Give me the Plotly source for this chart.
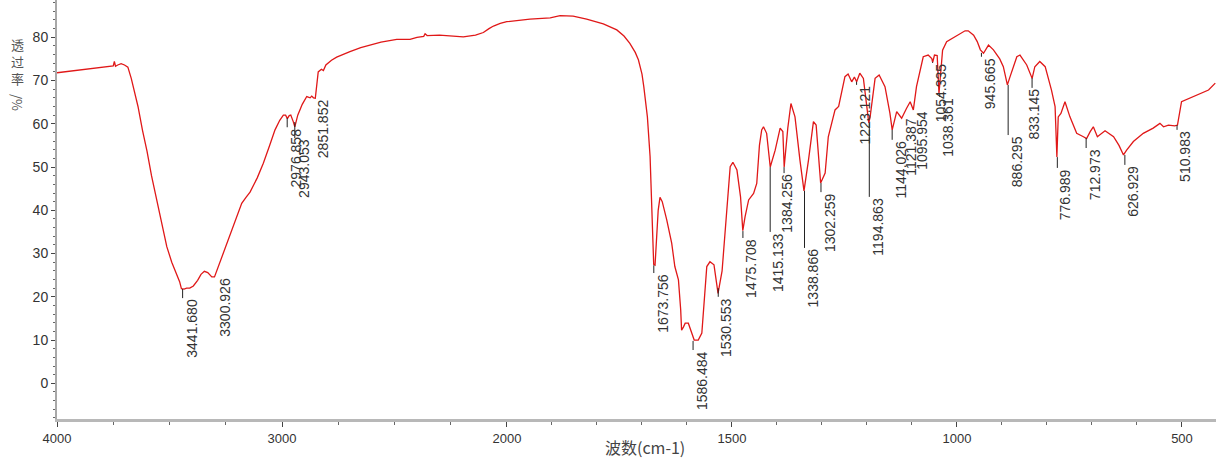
import numpy as np
import plotly.graph_objects as go

# ---------------- data ----------------
wavenumber = [
    4000, 3950, 3900, 3850, 3800, 3760, 3750, 3745, 3740, 3730, 3715, 3700, 3685, 3670, 3660,
    3640, 3620, 3600, 3580, 3557, 3535, 3512, 3490, 3470, 3455, 3447, 3435, 3424, 3410, 3394,
    3375, 3360, 3345, 3330, 3312, 3300, 3290, 3270, 3246, 3210, 3179, 3160, 3142, 3110, 3083,
    3055, 3031, 3010, 2994, 2984, 2976, 2968, 2961, 2950, 2943, 2930, 2910, 2890, 2875, 2868,
    2860, 2852, 2845, 2839, 2825, 2816, 2805, 2780, 2757, 2720, 2698, 2650, 2609, 2560, 2490,
    2431, 2400, 2370, 2364, 2355, 2300, 2250, 2194, 2140, 2105, 2080, 2060, 2030, 2001, 1949,
    1904, 1882, 1853, 1823, 1786, 1756, 1740, 1727, 1715, 1708, 1700, 1696, 1688, 1682, 1677,
    1674, 1671, 1668, 1664, 1660, 1655, 1645, 1634, 1627, 1619, 1614, 1612, 1608, 1604, 1597,
    1590, 1584, 1575, 1567, 1556, 1549, 1540, 1531, 1522, 1515, 1504, 1498, 1489, 1481, 1476,
    1471, 1463, 1452, 1445, 1439, 1434, 1430, 1423, 1415, 1404, 1393, 1387, 1384, 1380, 1376,
    1369, 1360, 1349, 1340, 1330, 1319, 1313, 1308, 1303, 1293, 1286, 1271, 1263, 1249, 1242,
    1234, 1228, 1223, 1216, 1208, 1200, 1196, 1193, 1182, 1173, 1160, 1149, 1144, 1134, 1123,
    1112, 1104, 1097, 1090, 1075, 1064, 1056, 1054, 1050, 1044, 1040, 1036, 1032, 1023, 1004,
    990, 982, 975, 963, 955, 948, 941, 930, 919, 905, 897, 888, 882, 867, 860,
    845, 833, 827, 816, 804, 790, 782, 778, 775, 769, 760, 749, 734, 719, 712,
    704, 697, 688, 671, 652, 640, 630, 623, 608, 586, 564, 549, 541, 530, 516,
    510, 501, 482, 460, 441, 426,
]
transmittance = [
    71.8, 72.1, 72.4, 72.8, 73.1, 73.3, 73.4, 74.4, 73.3, 73.6, 73.9, 73.6, 73.1, 70.5, 68.5,
    64.0, 58.5, 53.7, 48.0, 42.4, 37.0, 31.6, 28.0, 25.4, 23.5, 21.9, 21.8, 22.0, 22.0, 22.5,
    23.8, 25.2, 25.9, 25.6, 24.6, 24.6, 26.0, 29.0, 32.6, 37.5, 41.6, 43.0, 44.2, 47.5, 50.9,
    55.0, 58.6, 60.8, 62.0, 62.0, 61.2, 61.9, 62.0, 60.5, 59.3, 62.0, 64.5, 66.3, 66.0, 66.4,
    66.0, 65.9, 69.0, 72.0, 72.6, 72.3, 73.6, 74.7, 75.4, 76.3, 76.7, 77.6, 78.2, 78.9, 79.5,
    79.5, 80.0, 80.2, 80.8, 80.4, 80.5, 80.3, 80.1, 80.5, 81.1, 82.0, 82.6, 83.2, 83.6, 84.2,
    84.5, 85.0, 84.9, 84.2, 83.1, 81.7, 80.3, 78.6, 76.5, 74.8, 71.5, 68.6, 61.6, 52.4, 39.3,
    27.5, 27.3, 34.0, 40.0, 43.0, 42.0, 37.8, 32.4, 27.0, 23.9, 17.0, 12.3, 13.0, 13.9, 13.9,
    11.6, 10.0, 10.0, 11.6, 27.0, 28.1, 27.4, 20.8, 26.0, 36.0, 50.1, 51.1, 49.3, 43.1, 35.3,
    38.5, 42.4, 43.9, 46.2, 55.0, 58.6, 59.3, 57.8, 50.0, 53.9, 59.0, 58.2, 50.0, 55.0, 59.0,
    64.7, 61.6, 51.6, 44.5, 51.6, 60.5, 59.7, 53.9, 46.3, 48.6, 57.0, 63.2, 64.0, 70.9, 71.5,
    69.7, 70.8, 69.7, 71.7, 70.5, 64.0, 60.2, 61.6, 70.5, 71.3, 68.6, 62.4, 58.6, 62.8, 61.3,
    63.6, 65.1, 63.2, 68.6, 75.5, 75.9, 75.1, 74.2, 75.9, 75.8, 67.0, 72.0, 77.0, 79.0, 80.1,
    81.0, 81.5, 81.5, 80.5, 79.0, 77.1, 76.3, 78.2, 77.1, 75.0, 73.2, 69.0, 70.9, 75.5, 75.9,
    73.6, 70.5, 73.2, 74.4, 73.2, 67.8, 64.0, 52.3, 61.6, 62.4, 65.1, 61.6, 57.8, 57.0, 56.6,
    58.2, 59.3, 57.0, 58.4, 57.0, 55.0, 52.8, 53.9, 55.9, 57.8, 59.0, 60.1, 59.3, 59.7, 59.5,
    59.7, 65.1, 65.9, 67.0, 67.8, 69.4,
]

# peak labels
peak_labels = [
    "3441.680", "3300.926", "2976.858", "2943.053", "2851.852", "1673.756", "1586.484",
    "1530.553", "1475.708", "1415.133", "1384.256", "1338.866", "1302.259", "1223.121",
    "1194.863", "1144.026", "1121.387", "1095.954", "1054.335", "1038.361", "945.665",
    "886.295", "833.145", "776.989", "712.973", "626.929", "510.983",
]
peak_value = [
    21.8, 24.6, 61.3, 60.4, 66.0, 27.3, 9.8, 22.0, 35.2, 50.0, 50.0, 44.5, 46.3, 69.7,
    60.2, 58.6, 61.6, 63.2, 74.3, 67.1, 76.4, 69.0, 70.6, 52.3, 56.7, 52.8, 59.7,
]
# where each label's text ends (leader line end), in transmittance units
label_text_top = [
    19.7, 24.6, 59.2, 56.7, 66.0, 25.5, 7.7, 20.0, 33.6, 35.0, 48.6, 31.3, 44.2, 69.0,
    43.1, 56.3, 61.6, 63.2, 74.1, 66.2, 75.5, 57.4, 68.3, 49.8, 54.4, 50.5, 58.6,
]
label_shift_override = {"3300.926": 11, "1384.256": 3, "833.145": 2}

major_ticks = [4000, 3000, 2000, 1500, 1000, 500]
minor_ticks = [3750, 3500, 3250, 2750, 2500, 2250] + list(range(1900, 1500, -100)) + \
    list(range(1400, 1000, -100)) + list(range(900, 500, -100))


def to_axis(w):
    """Instrument axis: 4000-2000 compressed by half, below 2000 full scale."""
    w = np.asarray(w, dtype=float)
    return np.where(w >= 2000, (4000 - w) * 0.5, 1000 + (2000 - w))


fig = go.Figure()

fig.add_trace(go.Scatter(
    x=to_axis(wavenumber), y=transmittance, mode="lines",
    line=dict(color="#e01818", width=1.3), hoverinfo="skip", showlegend=False,
))

# leader lines
lx, ly = [], []
for lab, pv, tt in zip(peak_labels, peak_value, label_text_top):
    xa = float(to_axis(float(lab)))
    lx += [xa, xa, None]
    ly += [pv, tt, None]
fig.add_trace(go.Scatter(x=lx, y=ly, mode="lines", line=dict(color="#222222", width=1),
                         hoverinfo="skip", showlegend=False))

annotations = []
for lab, tt in zip(peak_labels, label_text_top):
    annotations.append(dict(
        x=float(to_axis(float(lab))), y=tt, xref="x", yref="y", text=lab,
        textangle=-90, showarrow=False, xanchor="center", yanchor="top",
        xshift=label_shift_override.get(lab, 8.5), borderpad=0,
        font=dict(family="Liberation Sans", size=14, color="#333333"),
    ))

# y-axis title, written vertically (CJK upright, "/%" turned)
plot_h = 419.0
annotations.append(dict(
    x=-0.0345, y=1 - 34 / plot_h, xref="paper", yref="paper", text="透<br>过<br>率",
    showarrow=False, xanchor="center", yanchor="top", borderpad=0,
    font=dict(family="Noto Sans CJK SC", size=13, color="#555555"),
))
annotations.append(dict(
    x=-0.0345, y=1 - 102 / plot_h, xref="paper", yref="paper", text="/%", textangle=90,
    showarrow=False, xanchor="center", yanchor="middle", borderpad=0,
    font=dict(family="Noto Sans CJK SC", size=13, color="#555555"),
))
# x-axis title
annotations.append(dict(
    x=0.507, y=(plot_h - 447) / plot_h, xref="paper", yref="paper", text="波数(cm-1)",
    showarrow=False, xanchor="center", yanchor="middle", borderpad=0,
    font=dict(family="Noto Sans CJK SC", size=16, color="#444444"),
))

fig.update_layout(
    width=1216, height=459,
    margin=dict(l=57, r=0, t=0, b=40),
    paper_bgcolor="white", plot_bgcolor="white",
    showlegend=False,
    annotations=annotations,
    xaxis=dict(
        range=[0, 2575.6], showgrid=False, zeroline=False,
        showline=True, linecolor="#b8b8b8", linewidth=3,
        tickmode="array", tickvals=to_axis(major_ticks).tolist(),
        ticktext=[str(t) for t in major_ticks],
        ticks="outside", ticklen=5, tickwidth=1, tickcolor="#444444",
        minor=dict(tickmode="array", tickvals=to_axis(minor_ticks).tolist(),
                   ticks="outside", ticklen=3, tickwidth=1, tickcolor="#666666"),
        tickfont=dict(family="Liberation Sans", size=13, color="#333333"),
    ),
    yaxis=dict(
        range=[-8.25, 88.62], showgrid=False, zeroline=False,
        showline=True, linecolor="#a8a8a8", linewidth=2,
        tickmode="array", tickvals=list(range(0, 81, 10)),
        ticks="outside", ticklen=4, tickwidth=1, tickcolor="#444444",
        minor=dict(dtick=2, tick0=0, ticks="outside", ticklen=2, tickwidth=1,
                   tickcolor="#666666"),
        tickfont=dict(family="Liberation Sans", size=14, color="#333333"),
    ),
)

fig.write_html("out.html")
